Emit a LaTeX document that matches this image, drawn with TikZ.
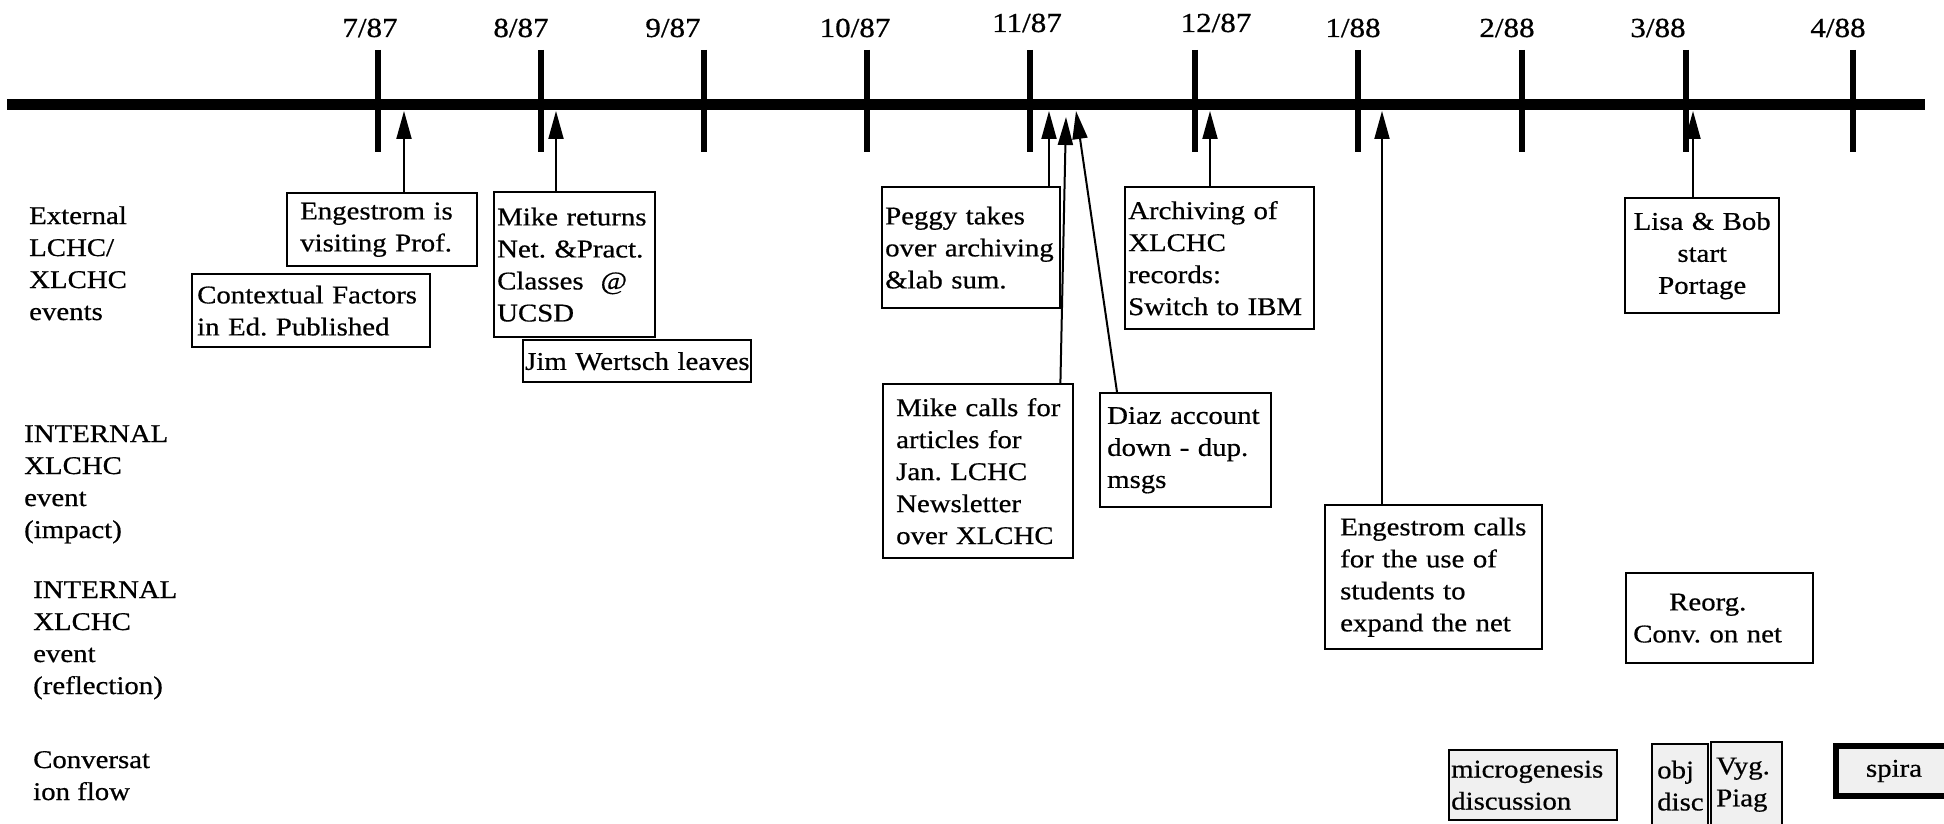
\documentclass[tikz,border=0pt]{standalone}
\usepackage{fontspec}
\setmainfont{Liberation Serif}[FakeStretch=1.13,FakeBold=0.6]
\usetikzlibrary{arrows.meta,calc}
\frenchspacing
\newcommand\tlfont{\fontsize{25.5}{32}\selectfont}
\newcommand\nb[1]{\mbox{#1}}
\tikzset{
  box/.style={draw, line width=2.4pt, anchor=north west, inner ysep=0pt, align=left, font=\tlfont},
  conv/.style={box, fill=black!6},
  rowlab/.style={anchor=base west, align=left, inner sep=0pt, font=\tlfont},
  datelab/.style={anchor=base, inner sep=0pt, font=\fontsize{27.5}{30}\selectfont},
  tickline/.style={line width=5.5pt},
  axisline/.style={line width=11pt},
  evarrow/.style={line width=2pt, -{Triangle[length=28pt,width=15pt]}},
}
\begin{document}
\frenchspacing
\begin{tikzpicture}[x=1pt,y=-1pt]
\useasboundingbox (0,0) rectangle (1944,824);
\clip (0,0) rectangle (1944,824);

% time axis
\coordinate (axL) at (7,105);
\coordinate (axR) at (1925,105);
\draw[axisline] (axL) -- (axR);
\foreach \x in {378,541,704,867,1030,1195,1358,1522,1686,1853}
  \draw[tickline] (\x,50) -- (\x,152);

% date labels
\node[datelab] (d1)  at (370,37)  {7/87};
\node[datelab] (d2)  at (521,37)  {8/87};
\node[datelab] (d3)  at (673,37)  {9/87};
\node[datelab] (d4)  at (855,37)  {10/87};
\node[datelab] (d5)  at (1027,32) {11/87};
\node[datelab] (d6)  at (1216,32) {12/87};
\node[datelab] (d7)  at (1353,37) {1/88};
\node[datelab] (d8)  at (1507,37) {2/88};
\node[datelab] (d9)  at (1658,37) {3/88};
\node[datelab] (d10) at (1838,37) {4/88};

% row labels (anchored at the baseline of their last line)
\node[rowlab] (r1) at (29,320) {External\\LCHC/\\XLCHC\\events};
\node[rowlab] (r2) at (24,538) {INTERNAL\\XLCHC\\event\\(impact)};
\node[rowlab] (r3) at (33,694) {INTERNAL\\XLCHC\\event\\(reflection)};
\node[rowlab] (r4) at (33,800) {Conversat\\ion flow};

% event boxes
\node[box, minimum width=190, minimum height=73, inner xsep=13pt, text width=164pt] (eng1) at (286,192)
  {\nb{Engestrom is}\\\nb{visiting Prof.}};
\node[box, minimum width=238, minimum height=73, inner xsep=5pt, text width=228pt] (ctx) at (191,273)
  {\nb{Contextual Factors}\\\nb{in Ed. Published}};
\node[box, minimum width=161, minimum height=145, inner xsep=3pt, text width=155pt] (mike1) at (493,191)
  {\nb{Mike returns}\\\nb{Net. \&Pract.}\\\nb{Classes\ \ @}\\UCSD};
\node[box, minimum width=228, minimum height=42, inner xsep=2pt, text width=224pt] (jim) at (522,339)
  {\nb{Jim Wertsch leaves}};
\node[box, minimum width=178, minimum height=121, inner xsep=3pt, text width=172pt] (peggy) at (881,186)
  {\nb{Peggy takes}\\\nb{over archiving}\\\nb{\&lab sum.}};
\node[box, minimum width=190, minimum height=174, inner xsep=13pt, text width=164pt] (mike2) at (882,383)
  {\nb{Mike calls for}\\\nb{articles for}\\\nb{Jan. LCHC}\\Newsletter\\\nb{over XLCHC}};
\node[box, minimum width=171, minimum height=114, inner xsep=7pt, text width=157pt] (diaz) at (1099,392)
  {\nb{Diaz account}\\\nb{down - dup.}\\msgs};
\node[box, minimum width=189, minimum height=142, inner xsep=3pt, text width=183pt] (arch) at (1124,186)
  {\nb{Archiving of}\\XLCHC\\records:\\\nb{Switch to IBM}};
\node[box, minimum width=154, minimum height=115, inner xsep=0pt, text width=154pt, align=center] (lisa) at (1624,197)
  {\nb{Lisa \& Bob}\\start\\Portage};
\node[box, minimum width=217, minimum height=144, inner xsep=15pt, text width=187pt] (eng2) at (1324,504)
  {\nb{Engestrom calls}\\\nb{for the use of}\\\nb{students to}\\\nb{expand the net}};
\node[box, minimum width=187, minimum height=90, inner xsep=7pt, text width=173pt] (reorg) at (1625,572)
  {\hspace*{36pt}Reorg.\\\nb{Conv. on net}};

% conversation flow boxes
\node[conv, minimum width=168, minimum height=70, inner xsep=2pt, text width=164pt] (micro) at (1448,749)
  {microgenesis\\discussion};
\node[conv, minimum width=56, minimum height=83, inner xsep=5pt, text width=46pt] (obj) at (1651,743)
  {obj\\disc};
\node[conv, minimum width=71, minimum height=85, inner xsep=5pt, text width=61pt] (vyg) at (1710,741)
  {Vyg.\\Piag};
\node[conv, line width=6pt, minimum width=160, minimum height=50, inner xsep=30pt, text width=100pt] (spira) at (1833,743)
  {spira};

% arrows to the time axis
\coordinate (t1) at (404,111);
\coordinate (t2) at (556,111);
\coordinate (t3) at (1049,111);
\coordinate (t4) at (1066,117);
\coordinate (t5) at (1076,111);
\coordinate (t6) at (1210,111);
\coordinate (t7) at (1693,111);
\coordinate (t8) at (1382,111);
\draw[evarrow] (eng1.north -| t1) -- (t1);
\draw[evarrow] (mike1.north -| t2) -- (t2);
\draw[evarrow] (peggy.north -| t3) -- (t3);
\draw[evarrow] ($(mike2.north east)+(-14,0)$) -- (t4);
\draw[evarrow] ($(diaz.north west)+(18,0)$) -- (t5);
\draw[evarrow] (arch.north -| t6) -- (t6);
\draw[evarrow] (lisa.north -| t7) -- (t7);
\draw[evarrow] (eng2.north -| t8) -- (t8);
\end{tikzpicture}
\end{document}
